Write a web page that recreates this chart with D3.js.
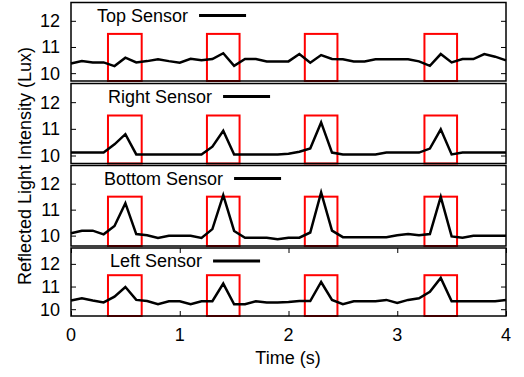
<!DOCTYPE html>
<html lang="en">
<head>
<meta charset="utf-8">
<title>Reflected light per sensor</title>
<script src="https://d3js.org/d3.v7.min.js"></script>
<style>
  body { margin: 0; background: #fff; }
  svg text { font-family: "Liberation Sans", Arial, Helvetica, sans-serif; font-size: 18px; fill: #000; }
</style>
</head>
<body>
<div id="chart"></div>
<script>
// sample times, every 0.1 s
var time = [0,0.1,0.2,0.3,0.4,0.5,0.6,0.7,0.8,0.9,1.0,1.1,1.2,1.3,1.4,1.5,1.6,1.7,1.8,1.9,2.0,
            2.1,2.2,2.3,2.4,2.5,2.6,2.7,2.8,2.9,3.0,3.1,3.2,3.3,3.4,3.5,3.6,3.7,3.8,3.9,4.0];

var topSensor = [10.37,10.46,10.41,10.41,10.27,10.59,10.41,10.46,10.53,10.46,10.40,10.55,10.49,10.54,10.76,10.28,
                 10.54,10.54,10.45,10.45,10.45,10.73,10.40,10.69,10.54,10.53,10.45,10.45,10.53,10.53,10.53,10.53,
                 10.45,10.28,10.73,10.41,10.54,10.54,10.73,10.63,10.49];

var rightSensor = [10.11,10.11,10.11,10.11,10.42,10.80,10.04,10.04,10.04,10.04,10.04,10.04,10.04,10.33,10.93,10.04,
                   10.04,10.04,10.04,10.04,10.07,10.14,10.26,11.24,10.11,10.04,10.04,10.04,10.04,10.11,10.11,10.11,
                   10.11,10.26,10.98,10.04,10.11,10.11,10.11,10.11,10.11];

var bottomSensor = [10.09,10.19,10.19,10.05,10.37,11.25,10.06,10.01,9.91,9.99,9.99,9.99,9.91,10.25,11.56,10.18,
                    9.92,9.92,9.92,9.86,9.92,9.92,10.12,11.66,10.19,9.94,9.94,9.94,9.94,9.94,10.01,10.06,
                    10.01,10.06,11.49,9.97,9.92,9.99,9.99,9.99,9.99];

var leftSensor = [10.38,10.48,10.38,10.30,10.55,10.98,10.41,10.36,10.22,10.35,10.35,10.22,10.35,10.35,11.13,10.22,
                  10.22,10.35,10.30,10.30,10.32,10.36,10.36,11.20,10.41,10.22,10.35,10.35,10.35,10.41,10.28,10.41,
                  10.48,10.77,11.38,10.35,10.35,10.35,10.35,10.35,10.41];

var sensorNames = ["Top Sensor", "Right Sensor", "Bottom Sensor", "Left Sensor"];
var sensorValues = [topSensor, rightSensor, bottomSensor, leftSensor];

// highlighted time windows (s) and the level their boxes reach
var windows = [[0.34,0.65],[1.25,1.55],[2.15,2.45],[3.25,3.55]];
var windowTop = 11.5;

var yTicks = [10, 11, 12];
var xTicks = [0, 1, 2, 3, 4];

var width = 524, height = 377;
var left = 71, right = 506;

// panel layout
var panels = [
  {top: 2.5,  bottom: 81,    ymin: 9.7, ymax: 12.7, keyX: 97},
  {top: 83.5, bottom: 163.5, ymin: 9.7, ymax: 12.7, keyX: 108},
  {top: 165.5,bottom: 246,   ymin: 9.6, ymax: 12.7, keyX: 104},
  {top: 248,  bottom: 316,   ymin: 9.7, ymax: 12.7, keyX: 110}
];

var svg = d3.select("#chart").append("svg")
  .attr("width", width)
  .attr("height", height);

var x = d3.scaleLinear().domain([0, 4]).range([left, right]);

panels.forEach(function(p, i) {
  var y = d3.scaleLinear().domain([p.ymin, p.ymax]).range([p.bottom, p.top]);
  var g = svg.append("g");

  // red boxes
  g.selectAll("rect.win")
    .data(windows)
    .enter().append("rect")
    .attr("class", "win")
    .attr("x", d => x(d[0]))
    .attr("y", y(windowTop))
    .attr("width", d => x(d[1]) - x(d[0]))
    .attr("height", y(p.ymin) - y(windowTop))
    .attr("fill", "none")
    .attr("stroke", "#ff0000")
    .attr("stroke-width", 2);

  // y ticks, left and mirrored right
  g.append("g")
    .attr("transform", "translate(" + left + ",0)")
    .call(d3.axisRight(y).tickValues(yTicks).tickSize(5).tickFormat(""))
    .call(a => a.select(".domain").remove());
  g.append("g")
    .attr("transform", "translate(" + right + ",0)")
    .call(d3.axisLeft(y).tickValues(yTicks).tickSize(5).tickFormat(""))
    .call(a => a.select(".domain").remove());

  g.selectAll("text.ylab")
    .data(yTicks)
    .enter().append("text")
    .attr("class", "ylab")
    .attr("x", 60)
    .attr("y", d => y(d) + 6.5)
    .attr("text-anchor", "end")
    .text(d => d);

  // series
  var line = d3.line()
    .x((d, j) => x(time[j]))
    .y(d => y(d));
  g.append("path")
    .datum(sensorValues[i])
    .attr("d", line)
    .attr("fill", "none")
    .attr("stroke", "#000")
    .attr("stroke-width", 2.5)
    .attr("stroke-linejoin", "miter");

  // frame
  g.append("rect")
    .attr("x", left)
    .attr("y", p.top)
    .attr("width", right - left)
    .attr("height", p.bottom - p.top)
    .attr("fill", "none")
    .attr("stroke", "#000")
    .attr("stroke-width", 1.5);

  // key
  var kt = g.append("text")
    .attr("x", p.keyX)
    .attr("y", p.top + 19)
    .text(sensorNames[i]);
  var tw = kt.node().getComputedTextLength();
  g.append("line")
    .attr("x1", p.keyX + tw + 11)
    .attr("x2", p.keyX + tw + 58)
    .attr("y1", p.top + 13)
    .attr("y2", p.top + 13)
    .attr("stroke", "#000")
    .attr("stroke-width", 3);

  // x ticks on the last panel
  if (i === panels.length - 1) {
    g.append("g")
      .attr("transform", "translate(0," + p.bottom + ")")
      .call(d3.axisTop(x).tickValues(xTicks).tickSize(5).tickFormat(""))
      .call(a => a.select(".domain").remove());
    g.append("g")
      .attr("transform", "translate(0," + p.top + ")")
      .call(d3.axisBottom(x).tickValues(xTicks).tickSize(5).tickFormat(""))
      .call(a => a.select(".domain").remove());
    g.selectAll("text.xlab")
      .data(xTicks)
      .enter().append("text")
      .attr("class", "xlab")
      .attr("x", d => x(d))
      .attr("y", 341)
      .attr("text-anchor", "middle")
      .text(d => d);
  }
});

svg.selectAll(".tick line").attr("stroke", "#000").attr("stroke-width", 1);

svg.append("text")
  .attr("x", 288)
  .attr("y", 364)
  .attr("text-anchor", "middle")
  .text("Time (s)");

svg.append("text")
  .attr("transform", "translate(31,166) rotate(-90)")
  .attr("text-anchor", "middle")
  .text("Reflected Light Intensity (Lux)");
</script>
</body>
</html>
